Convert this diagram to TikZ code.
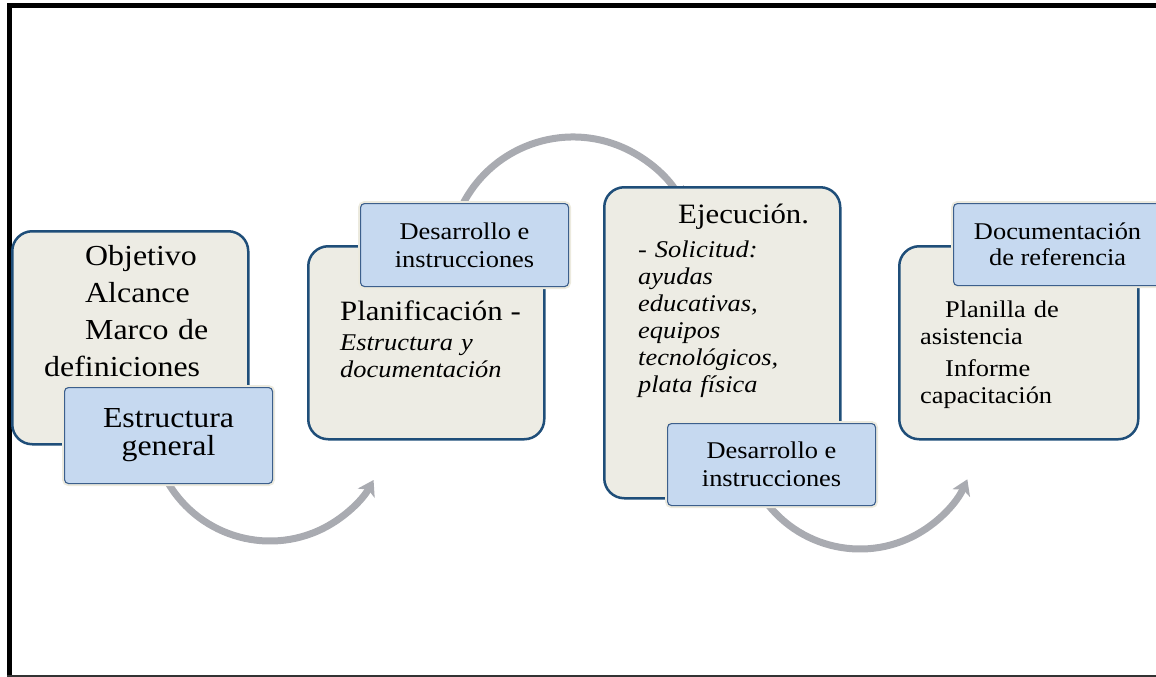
\documentclass[tikz,border=0pt]{standalone}
\usepackage{fontspec}
\setmainfont{Liberation Serif}[FakeStretch=1.1]
\usetikzlibrary{arrows.meta}
\definecolor{boxfill}{RGB}{237,236,228}
\definecolor{boxline}{RGB}{31,78,121}
\definecolor{lblfill}{RGB}{198,217,240}
\definecolor{lblline}{RGB}{60,95,140}
\definecolor{halo}{RGB}{236,234,222}
\definecolor{arrowgray}{RGB}{169,171,177}
\tikzset{
  graybox/.style={draw=boxline, line width=2.5pt, fill=boxfill, rounded corners=20pt, anchor=north west, inner sep=0pt},
  lblbox/.style={draw=lblline, line width=1.1pt, fill=lblfill, rounded corners=4pt, anchor=north west, inner sep=0pt,
     preaction={draw=halo, line width=5pt}},
  lbltext/.style={align=center, inner sep=0pt, font=\fontsize{24}{28}\selectfont},
  bodytext/.style={anchor=base west, inner sep=0pt, text width=220pt, align=left, font=\fontsize{24}{27}\selectfont},
  flowarrow/.style={draw=arrowgray, line width=7pt, -{Stealth[length=15pt,width=19pt,inset=4pt]}},
  framethick/.style={line width=5pt, draw=black},
}
\begin{document}
\begin{tikzpicture}[x=1pt,y=-1pt]
\useasboundingbox (0,0) rectangle (1156,677);
% frame
\coordinate (ftl) at (9.5,5.5);
\coordinate (ftr) at (1158,5.5);
\coordinate (fbl) at (9.5,677);
\coordinate (fbl2) at (7,675.5);
\coordinate (fbr) at (1158,675.5);
\draw[framethick] (ftr) -- (ftl) -- (fbl);
\draw[line width=2pt, draw=black!80] (fbl2) -- (fbr);
% arrows (behind boxes)
\coordinate (a1s) at ({270+118.4*cos(150)},{422.6+118.4*sin(150)});
\draw[flowarrow] (a1s) arc[start angle=150, end angle=29, radius=118.4];
\coordinate (a2s) at ({573+124*cos(205)},{261+124*sin(205)});
\draw[flowarrow] (a2s) arc[start angle=205, end angle=332, radius=124];
\coordinate (a3s) at ({860+117.5*cos(150)},{431.5+117.5*sin(150)});
\draw[flowarrow] (a3s) arc[start angle=150, end angle=24, radius=117.5];
% gray boxes
\node[graybox, minimum width=236pt, minimum height=213pt] (b1) at (11,230) {};
\node[graybox, minimum width=236pt, minimum height=193pt] (b2) at (307,245) {};
\node[graybox, minimum width=236pt, minimum height=311pt] (b3) at (603,186) {};
\node[graybox, minimum width=239pt, minimum height=193pt] (b4) at (898,245) {};
% body texts
\node[bodytext, font=\fontsize{29}{37}\selectfont] (t1) at (44,265)
  {\hspace*{41pt}Objetivo\\ \hspace*{41pt}Alcance\\ \hspace*{41pt}Marco de\\ definiciones};
\node[bodytext] (t2) at (340,320)
  {{\fontsize{28}{28}\selectfont Planificación -}\\[3pt] \textit{Estructura y}\\ \textit{documentación}};
\node[bodytext] (t3) at (638,223)
  {\hspace*{40pt}{\fontsize{28}{28}\selectfont Ejecución.}\\[7pt] - \textit{Solicitud:}\\ \textit{ayudas}\\ \textit{educativas,}\\ \textit{equipos}\\ \textit{tecnológicos,}\\ \textit{plata física}};
\node[bodytext] (t4) at (920,317)
  {\hspace*{25pt}Planilla de\\ asistencia\\[5pt] \hspace*{25pt}Informe\\ capacitación};
% label boxes
\node[lblbox, minimum width=208pt, minimum height=96pt] (l1) at (64,387) {};
\node[lbltext, font=\fontsize{29}{28}\selectfont] (l1t) at (l1.center) {Estructura\\general};
\node[lblbox, minimum width=208pt, minimum height=83pt] (l2) at (360,203) {};
\node[lbltext] (l2t) at (l2.center) {Desarrollo e\\instrucciones};
\node[lblbox, minimum width=208pt, minimum height=82pt] (l3) at (667,423) {};
\node[lbltext] (l3t) at (l3.center) {Desarrollo e\\instrucciones};
\node[lblbox, minimum width=208pt, minimum height=82pt] (l4) at (953,203) {};
\node[lbltext, font=\fontsize{24}{26}\selectfont] (l4t) at (l4.center) {Documentación\\de referencia};
\end{tikzpicture}
\end{document}
